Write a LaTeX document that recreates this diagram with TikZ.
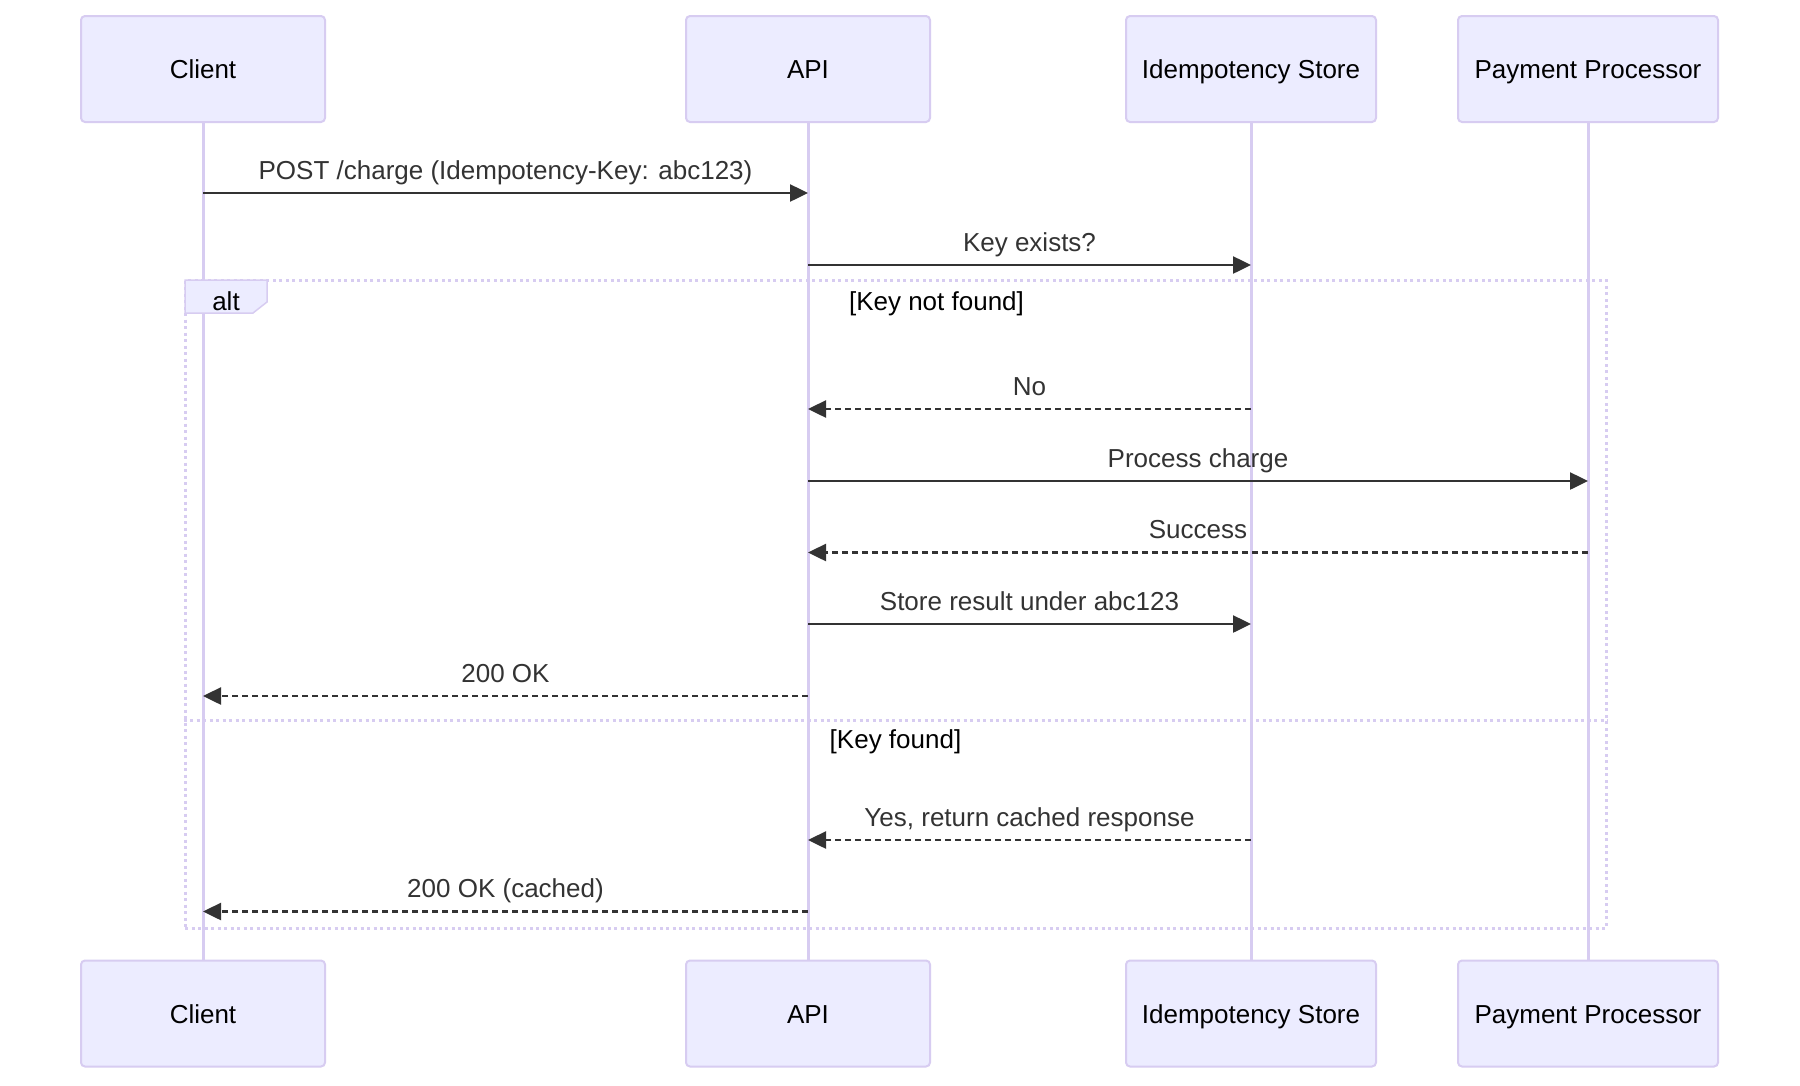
\documentclass[tikz,border=0pt]{standalone}
\usepackage{fontspec}
\setmainfont{Liberation Sans}
\usetikzlibrary{arrows.meta}
\definecolor{actorfill}{HTML}{ECECFF}
\definecolor{actorline}{HTML}{D7CCF1}
\definecolor{msgcol}{HTML}{333333}
\begin{document}
\begin{tikzpicture}[x=1pt,y=-1pt,
  actor/.style={draw=actorline, fill=actorfill, line width=2pt, rounded corners=4pt,
    minimum height=106pt, inner sep=0pt, text height=19pt, text depth=0pt,
    text=black, font=\fontsize{26}{31}\selectfont},
  lifeline/.style={draw=actorline, line width=3pt},
  msg/.style={draw=msgcol, line width=2.5pt, -{Triangle[length=18pt,width=17pt]}},
  reply/.style={msg, dash pattern=on 6pt off 4pt},
  lbl/.style={font=\fontsize{26}{31}\selectfont, text=msgcol, anchor=base, inner sep=0pt},
  seclbl/.style={font=\fontsize{26}{31}\selectfont, text=black, anchor=base, inner sep=0pt},
  altline/.style={draw=actorline, line width=3pt, dash pattern=on 3pt off 3.5pt},
  tabbox/.style={draw=actorline, fill=actorfill, line width=1.5pt}
]
\useasboundingbox[fill=white] (0,0) rectangle (1800,1085);

% actors top
\node[actor, minimum width=244pt] (c1) at (203,69) {Client};
\node[actor, minimum width=244pt] (a1) at (808,69) {API};
\node[actor, minimum width=250pt] (s1) at (1251,69) {Idempotency Store};
\node[actor, minimum width=260pt] (p1) at (1588,69) {Payment Processor};
% actors bottom
\node[actor, minimum width=244pt] (c2) at (203,1013.5) {Client};
\node[actor, minimum width=244pt] (a2) at (808,1013.5) {API};
\node[actor, minimum width=250pt] (s2) at (1251,1013.5) {Idempotency Store};
\node[actor, minimum width=260pt] (p2) at (1588,1013.5) {Payment Processor};

% lifelines
\draw[lifeline] (c1.south) -- (c2.north);
\draw[lifeline] (a1.south) -- (a2.north);
\draw[lifeline] (s1.south) -- (s2.north);
\draw[lifeline] (p1.south) -- (p2.north);

% alt frame
\node[altline, minimum width=1421pt, minimum height=648pt, inner sep=0pt] (alt) at (895.5,604) {};
\coordinate (dv) at (0,720);
\draw[altline] (alt.west |- dv) -- (alt.east |- dv);
\draw[tabbox] (185,280) -- (267,280) -- (267,302) -- (253,313) -- (185,313) -- cycle;
\node[seclbl] (altl) at (226,310) {alt};
\node[seclbl] (sec1) at (936.5,310) {[Key not found]};
\node[seclbl] (sec2) at (895.5,748) {[Key found]};

% message rows
\coordinate (r1) at (0,193);
\coordinate (r2) at (0,265);
\coordinate (r3) at (0,409);
\coordinate (r4) at (0,481);
\coordinate (r5) at (0,552.5);
\coordinate (r6) at (0,624);
\coordinate (r7) at (0,696);
\coordinate (r8) at (0,840);
\coordinate (r9) at (0,911.5);

\draw[msg] (c1 |- r1) -- node[lbl, yshift=14pt] {POST /charge (Idempotency-Key: abc123)} (a1 |- r1);
\draw[msg] (a1 |- r2) -- node[lbl, yshift=14pt] {Key exists?} (s1 |- r2);
\draw[reply] (s1 |- r3) -- node[lbl, yshift=14pt] {No} (a1 |- r3);
\draw[msg] (a1 |- r4) -- node[lbl, yshift=14pt] {Process charge} (p1 |- r4);
\draw[reply] (p1 |- r5) -- node[lbl, yshift=14pt] {Success} (a1 |- r5);
\draw[msg] (a1 |- r6) -- node[lbl, yshift=14pt] {Store result under abc123} (s1 |- r6);
\draw[reply] (a1 |- r7) -- node[lbl, yshift=14pt] {200 OK} (c1 |- r7);
\draw[reply] (s1 |- r8) -- node[lbl, yshift=14pt] {Yes, return cached response} (a1 |- r8);
\draw[reply] (a1 |- r9) -- node[lbl, yshift=14pt] {200 OK (cached)} (c1 |- r9);
\end{tikzpicture}
\end{document}
